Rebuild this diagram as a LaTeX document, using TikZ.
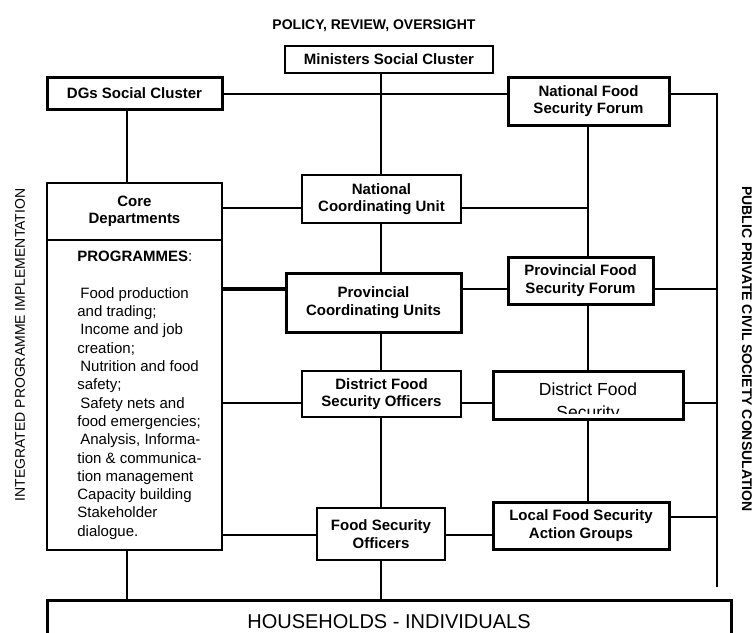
\documentclass[tikz,border=0pt]{standalone}
\usepackage{fontspec}
\setmainfont{Liberation Sans}
\usepackage{tikz}
\usetikzlibrary{positioning,calc}
\newcommand{\boxfont}{\fontsize{15}{17.5}\selectfont\bfseries}
\newcommand{\listfont}{\fontsize{15}{18.3}\selectfont\mdseries}
\newcommand{\sidefont}{\fontsize{14}{16}\selectfont}

\begin{document}
\begin{tikzpicture}[x=1pt,y=-1pt,every node/.style={font=\boxfont,align=center}]
      \tikzstyle{thick box}=[rectangle,draw,line width=3pt,inner sep=0pt];
      \tikzstyle{thin box}=[rectangle,draw,line width=1.8pt,inner sep=0pt];
      \tikzstyle{link}=[line width=2.6pt];
      \useasboundingbox (0,0) rectangle (754,632);
      \clip (0,0) rectangle (754,632);
      % buses and rows
      \coordinate (lbus) at (127,0); \coordinate (mbus) at (381,0);
      \coordinate (fbus) at (588,0); \coordinate (rbus) at (717,0);
      \coordinate (r1) at (0,94);  \coordinate (r2) at (0,208);
      \coordinate (r3) at (0,289); \coordinate (r4) at (0,403);
      \coordinate (r5) at (0,535); \coordinate (r6) at (0,517);
      \coordinate (rend) at (0,587);
      % texts round the chart
      \node[font=\sidefont\bfseries,anchor=base] (policy) at (374,29) {POLICY, REVIEW, OVERSIGHT};
      \node[font=\sidefont\mdseries,rotate=90] (impl) at (20,345) {INTEGRATED PROGRAMME IMPLEMENTATION};
      \node[font=\sidefont\bfseries,rotate=-90] (consult) at (747,349) {PUBLIC PRIVATE CIVIL SOCIETY CONSULATION};
      % boxes
      \node[thick box,line width=2.4pt,minimum width=208pt,minimum height=27pt] (mini) at (389,59.5) {Ministers Social Cluster};
      \node[thick box,minimum width=175pt,minimum height=32pt] (dgs) at (134.5,93) {DGs Social Cluster};
      \node[thick box,minimum width=161pt,minimum height=48pt] (nfsf) at (588.5,101) {National Food\\Security Forum};
      \node[thin box,minimum width=175pt,minimum height=57pt] (core) at (134.5,211.5) {Core\\Departments};
      \node[thin box,minimum width=175pt,minimum height=310pt,font=\listfont] (prog) at (134.5,395)
        {\begin{tabular}{@{\hspace{10pt}}l@{}}
         \textbf{PROGRAMMES}:\\[19pt]
         \hspace*{3pt}Food production\\and trading;\\
         \hspace*{3pt}Income and job\\creation;\\
         \hspace*{3pt}Nutrition and food\\safety;\\
         \hspace*{3pt}Safety nets and\\food emergencies;\\
         \hspace*{3pt}Analysis, Informa-\\tion \& communica-\\tion management\\
         Capacity building\\Stakeholder\\dialogue.
         \end{tabular}};
      \node[thin box,minimum width=159pt,minimum height=48pt] (ncu) at (381.5,199) {National\\Coordinating Unit};
      \node[thick box,minimum width=175pt,minimum height=59pt] (pcu) at (373.5,302.5) {Provincial\\Coordinating Units};
      \node[thick box,minimum width=145pt,minimum height=47pt] (pfsf) at (580.5,280.5) {Provincial Food\\Security Forum};
      \node[thin box,minimum width=159pt,minimum height=46pt] (dfso) at (381.5,394) {District Food\\Security Officers};
      \node[thick box,minimum width=190pt,minimum height=48pt] (dfs) at (588,395) {};
      \begin{scope}
        \clip (dfs.north west) rectangle ([yshift=7pt]dfs.south east);
        \node[font=\fontsize{17.5}{23.5}\selectfont\mdseries,anchor=base] (dfstext) at (588,418.5) {District Food\\Security};
      \end{scope}
      \node[thin box,minimum width=128pt,minimum height=52pt] (fso) at (381,534) {Food Security\\Officers};
      \node[thick box,minimum width=176pt,minimum height=47pt] (lfsag) at (581,525.5) {Local Food Security\\Action Groups};
      \node[thick box,anchor=north,minimum width=684pt,text height=14.5pt,text depth=60pt,inner ysep=13pt,
            font=\fontsize{20}{24}\selectfont\mdseries] (hh) at (389,599) {HOUSEHOLDS - INDIVIDUALS};
      % connectors
      \draw[link] (dgs.east |- r1) -- (nfsf.west |- r1);
      \draw[link] (nfsf.east |- r1) -- (rbus |- r1) -- (rbus |- rend);
      \draw[link] (mini.south -| mbus) -- (ncu.north -| mbus);
      \draw[link] (dgs.south -| lbus) -- (core.north -| lbus);
      \draw[link] (core.east |- r2) -- (ncu.west |- r2);
      \draw[link] (ncu.east |- r2) -- (fbus |- r2);
      \draw[link] (nfsf.south -| fbus) -- (pfsf.north -| fbus);
      \draw[link,line width=3.8pt] (prog.east |- r3) -- (pcu.west |- r3);
      \draw[link] (pcu.east |- r3) -- (pfsf.west |- r3);
      \draw[link] (pfsf.east |- r3) -- (rbus |- r3);
      \draw[link] (ncu.south -| mbus) -- (pcu.north -| mbus);
      \draw[link] (pcu.south -| mbus) -- (dfso.north -| mbus);
      \draw[link] (prog.east |- r4) -- (dfso.west |- r4);
      \draw[link] (dfso.east |- r4) -- (dfs.west |- r4);
      \draw[link] (dfs.east |- r4) -- (rbus |- r4);
      \draw[link] (pfsf.south -| fbus) -- (dfs.north -| fbus);
      \draw[link] (dfs.south -| fbus) -- (lfsag.north -| fbus);
      \draw[link] (dfso.south -| mbus) -- (fso.north -| mbus);
      \draw[link] (prog.east |- r5) -- (fso.west |- r5);
      \draw[link] (fso.east |- r5) -- (lfsag.west |- r5);
      \draw[link] (lfsag.east |- r6) -- (rbus |- r6);
      \draw[link] (fso.south -| mbus) -- (hh.north -| mbus);
      \draw[link] (prog.south -| lbus) -- (hh.north -| lbus);
    \end{tikzpicture}
\end{document}
